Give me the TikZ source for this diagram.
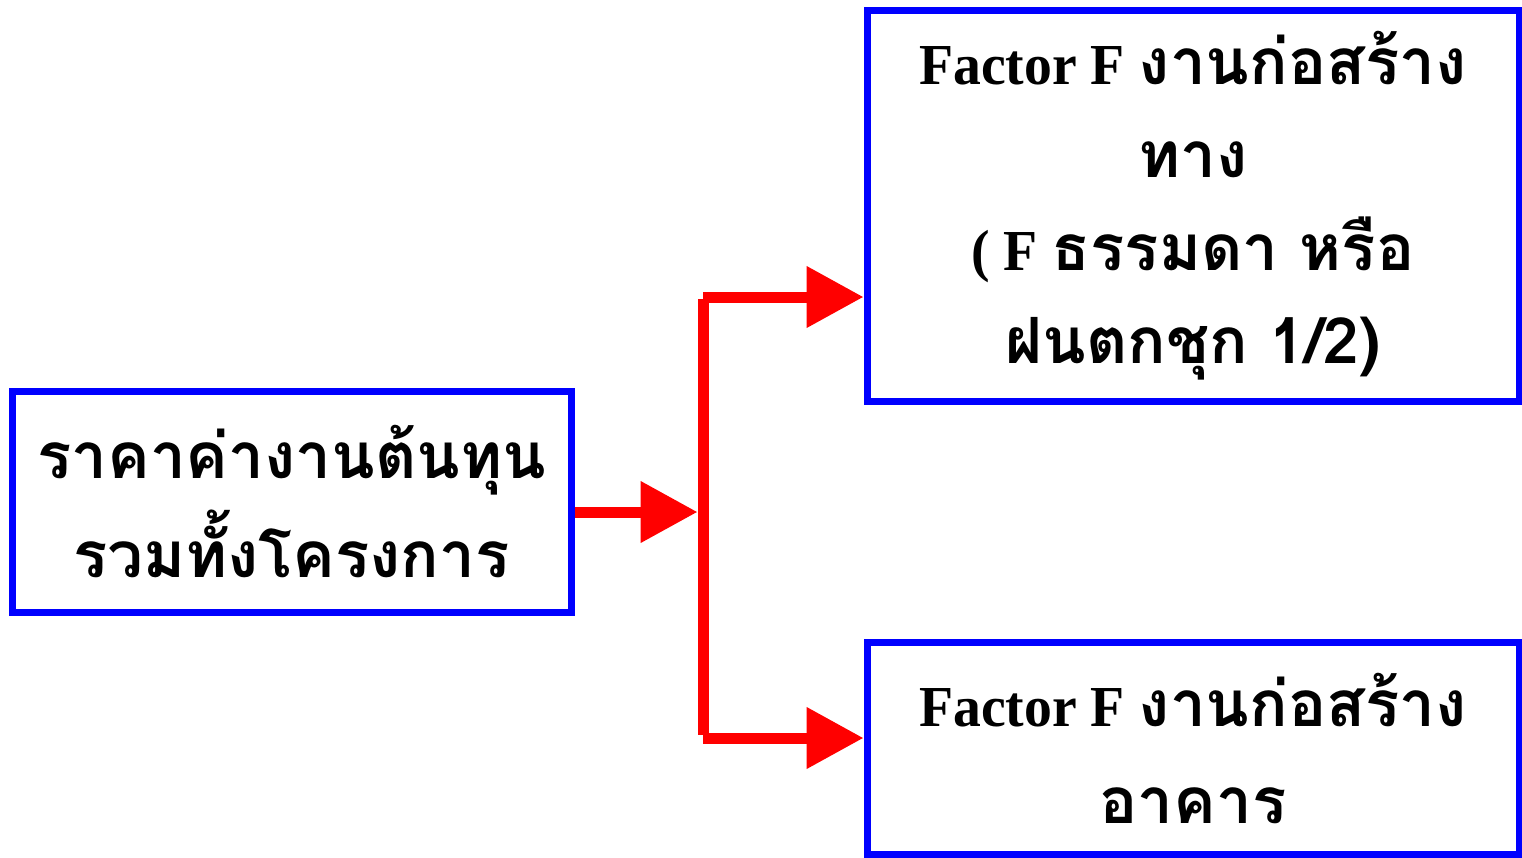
\documentclass[tikz,border=0pt]{standalone}
\usepackage{fontspec}
\setmainfont{Liberation Serif}[FakeStretch=0.96]
\newfontfamily\thaifont[Script=Thai,Scale=1.1]{Loma}
\usetikzlibrary{arrows.meta}
\newcommand{\thx}[1]{{\thaifont #1}}
\tikzset{
  box/.style={draw=blue, line width=7pt, rectangle, inner sep=0pt, align=center, font=\bfseries\fontsize{58}{93}\selectfont},
  conn/.style={draw=red, line width=11pt},
  tip/.style={-{Triangle[length=57pt,width=59pt]}}
}
\begin{document}
\begin{tikzpicture}[x=1pt,y=-1pt]
\useasboundingbox (0,0) rectangle (1522,857);
\node[box, minimum width=559pt, minimum height=221pt] (b1) at (291.5,501.5)
  {\thx{ราคาค่างานต้นทุน}\\[6pt]\thx{รวมทั้งโครงการ}};
\node[box, minimum width=652pt, minimum height=391pt] (b2) at (1193,205.5)
  {Factor F \thx{งานก่อสร้าง}\\\thx{ทาง}\\( F \thx{ธรรมดา หรือ}\\\thx{ฝนตกชุก 1/2)}};
\node[box, minimum width=652pt, minimum height=212pt] (b3) at (1193,748)
  {Factor F \thx{งานก่อสร้าง}\\[4pt]\thx{อาคาร}};
\coordinate (jm) at (697.5,512);
\coordinate (jt) at (703,297);
\coordinate (jb) at (703,738);
\draw[conn, tip] (b1.east |- jm) -- (jm);
\draw[conn] (703,299) -- (703,735);
\draw[conn, tip] (jt) -- (b2.west |- jt);
\draw[conn, tip] (jb) -- (b3.west |- jb);
\end{tikzpicture}
\end{document}
